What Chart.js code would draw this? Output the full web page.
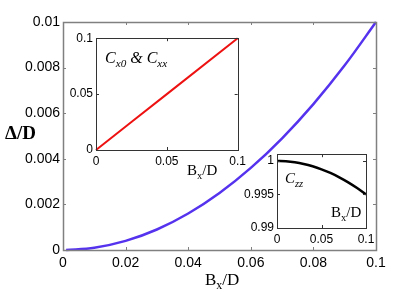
<!DOCTYPE html>
<html>
<head>
<meta charset="utf-8">
<script src="https://cdn.jsdelivr.net/npm/chart.js@4.4.1/dist/chart.umd.min.js"></script>
<style>
  html, body { margin: 0; padding: 0; background: #fff; }
  #wrap { position: relative; width: 415px; height: 294px; overflow: hidden; background: #fff; }
  canvas { position: absolute; }
  .lbl { position: absolute; font-family: 'Liberation Serif', 'DejaVu Serif', serif; color: #000; line-height: 1; white-space: nowrap; }
  .lbl sub { font-size: 0.7em; vertical-align: -0.35em; line-height: 0; }
  .it { font-style: italic; }
</style>
</head>
<body>
<div id="wrap">
  <canvas id="mainChart" width="415" height="294" style="left:0;top:0"></canvas>
  <canvas id="insetC" width="190" height="150" style="left:60px;top:28px"></canvas>
  <canvas id="insetZ" width="140" height="104" style="left:240px;top:144px"></canvas>

  <div class="lbl" style="left:5px;top:123px;font-size:19px;font-weight:bold;">&Delta;/D</div>
  <div class="lbl" style="left:205px;top:271px;font-size:17px;">B<sub>x</sub>/D</div>
  <div class="lbl it" style="left:105px;top:50px;font-size:16px;">C<sub>x0</sub> &amp; C<sub>xx</sub></div>
  <div class="lbl" style="left:187px;top:163px;font-size:15px;">B<sub>x</sub>/D</div>
  <div class="lbl it" style="left:285px;top:171px;font-size:15px;">C<sub>zz</sub></div>
  <div class="lbl" style="left:331px;top:205px;font-size:15px;">B<sub>x</sub>/D</div>
</div>
<script>
// Main curve: Delta/D against Bx/D
const bx = [0.001, 0.01, 0.02, 0.03, 0.04, 0.05, 0.06, 0.07, 0.08, 0.09, 0.1];
const delta = [0, 0.0001, 0.0004, 0.0009, 0.0016, 0.0025, 0.0036, 0.0049, 0.0064, 0.0081, 0.01];

// Inset 1: C_x0 & C_xx
const bxC = [0, 0.05, 0.1];
const cxx = [0, 0.05, 0.1];

// Inset 2: C_zz
const bxZ = [0, 0.01, 0.02, 0.03, 0.04, 0.05, 0.06, 0.07, 0.08, 0.09, 0.1];
const czz = [1, 0.99995, 0.9998, 0.99955, 0.9992, 0.99875, 0.9982, 0.99755, 0.9968, 0.99595, 0.995];

// Tick values
const mainXTicks = [0, 0.02, 0.04, 0.06, 0.08, 0.1];
const mainYTicks = [0, 0.002, 0.004, 0.006, 0.008, 0.01];
const insetCXTicks = [0, 0.05, 0.1];
const insetCYTicks = [0, 0.05, 0.1];
const insetZXTicks = [0, 0.05, 0.1];
const insetZYTicks = [0.99, 0.995, 1];

const pts = (xs, ys) => xs.map((x, i) => ({ x: x, y: ys[i] }));

// Frame around the plot area with inward ticks on all four sides
const frameTicks = {
  id: 'frameTicks',
  beforeDraw(chart, args, opts) {
    if (!opts.fill) return;
    const a = chart.chartArea;
    chart.ctx.save();
    chart.ctx.fillStyle = '#fff';
    chart.ctx.fillRect(a.left, a.top, a.width, a.height);
    chart.ctx.restore();
  },
  afterDraw(chart, args, opts) {
    const { ctx, chartArea: a, scales } = chart;
    const len = opts.len || 3;
    ctx.save();
    ctx.strokeStyle = opts.color || '#000';
    ctx.lineWidth = 1;
    ctx.beginPath();
    scales.x.ticks.forEach(t => {
      const px = Math.round(scales.x.getPixelForValue(t.value)) + 0.5;
      ctx.moveTo(px, a.bottom); ctx.lineTo(px, a.bottom - len);
      ctx.moveTo(px, a.top); ctx.lineTo(px, a.top + len);
    });
    scales.y.ticks.forEach(t => {
      const py = Math.round(scales.y.getPixelForValue(t.value)) + 0.5;
      ctx.moveTo(a.left, py); ctx.lineTo(a.left + len, py);
      ctx.moveTo(a.right, py); ctx.lineTo(a.right - len, py);
    });
    ctx.stroke();
    ctx.lineWidth = opts.width || 1;
    ctx.strokeRect(Math.round(a.left) + 0.5, Math.round(a.top) + 0.5, Math.round(a.width), Math.round(a.height));
    ctx.restore();
  }
};

function makeChart(id, data, color, lw, o) {
  return new Chart(document.getElementById(id), {
    type: 'line',
    data: {
      datasets: [{
        data: data,
        borderColor: color,
        borderWidth: lw,
        pointRadius: 0,
        fill: false,
        cubicInterpolationMode: 'monotone'
      }]
    },
    plugins: [frameTicks],
    options: {
      responsive: false,
      devicePixelRatio: 1,
      animation: false,
      clip: false,
      layout: { padding: { top: o.padTop, right: o.padRight, left: 0, bottom: 0 } },
      plugins: {
        legend: { display: false },
        tooltip: { enabled: false },
        frameTicks: { color: o.frameColor, len: o.tickLen, fill: o.fill, width: o.frameWidth }
      },
      scales: {
        x: {
          type: 'linear',
          min: o.xMin, max: o.xMax,
          afterFit: s => { s.height = o.xH; },
          afterBuildTicks: s => { s.ticks = o.xTicks.map(v => ({ value: v })); },
          grid: { display: false, drawTicks: false },
          border: { display: false },
          ticks: {
            color: '#000', padding: o.xPad, maxRotation: 0, autoSkip: false,
            font: { family: 'Liberation Sans, Arial, sans-serif', size: o.fs },
            callback: v => String(v)
          }
        },
        y: {
          type: 'linear',
          min: o.yMin, max: o.yMax,
          afterFit: s => { s.width = o.yW; },
          afterBuildTicks: s => { s.ticks = o.yTicks.map(v => ({ value: v })); },
          grid: { display: false, drawTicks: false },
          border: { display: false },
          ticks: {
            color: '#000', padding: o.yPad, autoSkip: false,
            font: { family: 'Liberation Sans, Arial, sans-serif', size: o.fs },
            callback: v => String(v)
          }
        }
      }
    }
  });
}

makeChart('mainChart', pts(bx, delta), '#5533ee', 2.5, {
  padTop: 22, padRight: 39, xH: 44, yW: 63,
  xMin: 0, xMax: 0.1, yMin: 0, yMax: 0.01,
  xTicks: mainXTicks, yTicks: mainYTicks,
  xPad: 5, yPad: 3, fs: 14,
  frameColor: '#808080', tickLen: 3, fill: false, frameWidth: 1.5
});

makeChart('insetC', pts(bxC, cxx), '#ee1111', 2, {
  padTop: 7, padRight: 9, xH: 28, yW: 36,
  xMin: 0, xMax: 0.1, yMin: 0, yMax: 0.1,
  xTicks: insetCXTicks, yTicks: insetCYTicks,
  xPad: 4, yPad: 3, fs: 12,
  frameColor: '#333', tickLen: 3, fill: true, frameWidth: 1
});

makeChart('insetZ', pts(bxZ, czz), '#000', 2.5, {
  padTop: 7, padRight: 14, xH: 20, yW: 37,
  xMin: 0, xMax: 0.1, yMin: 0.99, yMax: 1.001,
  xTicks: insetZXTicks, yTicks: insetZYTicks,
  xPad: 4, yPad: 3, fs: 12,
  frameColor: '#333', tickLen: 3, fill: true, frameWidth: 1
});
</script>
</body>
</html>
